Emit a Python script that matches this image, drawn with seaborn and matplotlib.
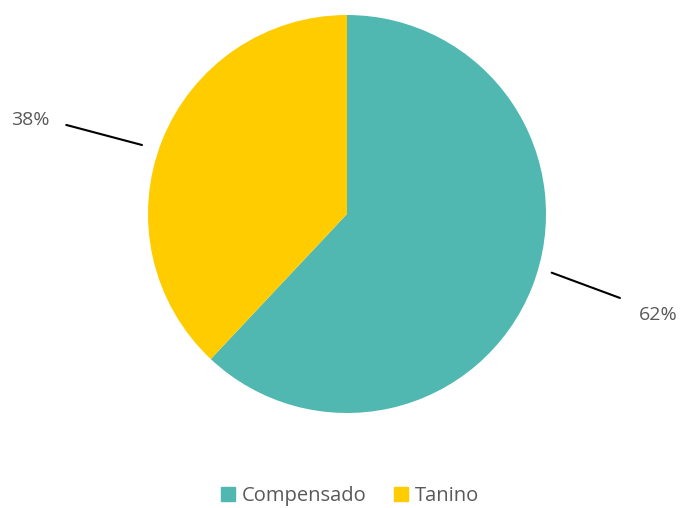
import numpy as np
import matplotlib.pyplot as plt
import seaborn as sns

sns.set_theme(style="white")
plt.rcParams['font.family'] = ['Open Sans', 'DejaVu Sans']

# dados
categorias = ['Compensado', 'Tanino']
valores = [62, 38]
cores = ['#50B8B1', '#FFCC00']

fig = plt.figure(figsize=(6.81, 5.08), dpi=100)
ax = fig.add_axes([0, 0, 1, 1])

cx, cy, r = 347, 294, 199
wedges, _ = ax.pie(valores, colors=cores, startangle=90, counterclock=False,
                   center=(cx, cy), radius=r, frame=True,
                   wedgeprops=dict(linewidth=0))
ax.set_xlim(0, 681)
ax.set_ylim(0, 508)
ax.set_aspect('equal')
ax.axis('off')

# rótulos com linhas de chamada (desvio de ângulo início/fim, raios, posição do texto)
ajustes = [(5.6, 4.5, 1.07, 1.435, (658, 193)),
           (3.0, 4.0, 1.087, 1.48, (30, 388))]
for w, v, (da1, da2, r1, r2, pos) in zip(wedges, valores, ajustes):
    meio = (w.theta1 + w.theta2) / 2
    a1, a2 = np.deg2rad(meio + da1), np.deg2rad(meio + da2)
    p1 = (cx + r * r1 * np.cos(a1), cy + r * r1 * np.sin(a1))
    p2 = (cx + r * r2 * np.cos(a2), cy + r * r2 * np.sin(a2))
    ax.plot([p1[0], p2[0]], [p1[1], p2[1]], color='black', lw=1.5)
    ax.text(pos[0], pos[1], f"{v}%", ha='center', va='center',
            fontsize=14, color='#595959')

handles = [plt.Rectangle((0, 0), 1, 1, color=c) for c in cores]
fig.legend(handles, categorias, loc='center', bbox_to_anchor=(0.514, 0.023),
           ncol=2, frameon=False, fontsize=14.5, labelcolor='#595959',
           handlelength=0.7, handleheight=0.7, handletextpad=0.3,
           columnspacing=1.4)

fig.savefig('out.png', dpi=100)
